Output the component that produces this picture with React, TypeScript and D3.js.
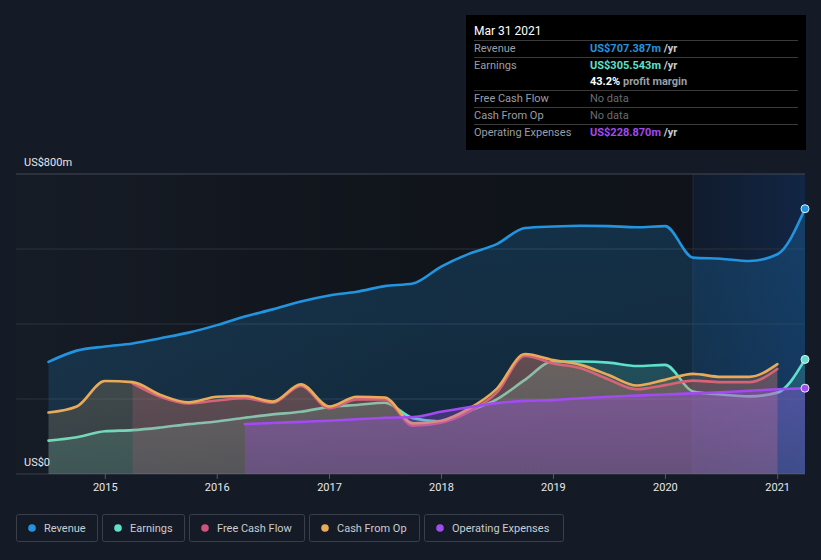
import React from "react";
import * as d3 from "d3";

// quarter ends, mid-2014 .. Q1 2021
const QUARTERS = [
  "2014-06-30", "2014-09-30", "2014-12-31",
  "2015-03-31", "2015-06-30", "2015-09-30", "2015-12-31",
  "2016-03-31", "2016-06-30", "2016-09-30", "2016-12-31",
  "2017-03-31", "2017-06-30", "2017-09-30", "2017-12-31",
  "2018-03-31", "2018-06-30", "2018-09-30", "2018-12-31",
  "2019-03-31", "2019-06-30", "2019-09-30", "2019-12-31",
  "2020-03-31", "2020-06-30", "2020-09-30", "2020-12-31",
  "2021-03-31",
];

// US$ millions
const REVENUE = [
  299, 329, 340, 348, 362, 377, 397, 420, 439, 460, 476, 486, 501, 508,
  553, 587, 613, 656, 660, 662, 661, 658, 661, 577, 574, 568, 586, 707.387,
];
const EARNINGS = [
  89, 98, 114, 117, 124, 133, 140, 150, 159, 166, 179, 184, 190, 149,
  140, 168, 199, 251, 300, 300, 297, 288, 291, 220, 212, 207, 217, 305.543,
];
const FREE_CASH_FLOW = [
  null, null, null, 242, 206, 188, 196, 202, 190, 235, 175, 199, 199, 129,
  137, 166, 217, 315, 295, 282, 252, 226, 237, 249, 245, 245, 280, null,
];
const CASH_FROM_OP = [
  164, 180, 248, 245, 211, 191, 206, 208, 193, 239, 180, 206, 204, 135,
  142, 174, 227, 320, 304, 291, 264, 236, 251, 267, 259, 259, 293, null,
];
const OPERATING_EXPENSES = [
  null, null, null, null, null, null, null, 133, 136, 139, 142, 146, 150, 152,
  166, 178, 189, 195, 197, 202, 206, 209, 212, 215, 218, 222, 226, 228.87,
];

const YEAR_TICKS = [2015, 2016, 2017, 2018, 2019, 2020, 2021];
const Y_GRID = [0, 200, 400, 600, 800];

const SERIES = [
  { name: "Revenue", values: REVENUE, color: "#2394df", fill: 0.2, dot: true },
  { name: "Earnings", values: EARNINGS, color: "#5ee0cb", fill: 0.17, dot: true },
  { name: "Free Cash Flow", values: FREE_CASH_FLOW, color: "#d2527f", fill: 0.2, dot: false },
  { name: "Cash From Op", values: CASH_FROM_OP, color: "#e9aa5a", fill: 0.18, dot: false },
  { name: "Operating Expenses", values: OPERATING_EXPENSES, color: "#a24bf0", fill: 0.3, dot: true },
];

const LEGEND_W = [81, 82, 115, 110, 139];

const W = 821;
const H = 560;
const margin = { top: 174, right: 16, bottom: 86, left: 16 };
const FONT = "Roboto, 'Open Sans', sans-serif";

export default function App() {
  const dates = QUARTERS.map((d) => d3.timeParse("%Y-%m-%d")(d) as Date);
  const x = d3
    .scaleTime()
    .domain([new Date(2014, 2, 16), new Date(2021, 2, 31)])
    .range([margin.left, W - margin.right]);
  const y = d3
    .scaleLinear()
    .domain([0, 800])
    .range([H - margin.bottom, margin.top]);

  const line = d3
    .line<number | null>()
    .defined((d) => d != null)
    .x((_, i) => x(dates[i]))
    .y((d) => y(d as number))
    .curve(d3.curveMonotoneX);
  const area = d3
    .area<number | null>()
    .defined((d) => d != null)
    .x((_, i) => x(dates[i]))
    .y0(y(0))
    .y1((d) => y(d as number))
    .curve(d3.curveMonotoneX);

  const hiStart = x(new Date(2020, 2, 31));
  const plotL = x.range()[0];
  const plotR = x.range()[1];
  const last = dates.length - 1;

  return (
    <div style={{ position: "absolute", left: 0, top: 0 }}>
      <svg width={W} height={H} style={{ display: "block", fontFamily: FONT }}>
        <defs>
          <linearGradient id="plotbg" x1="0" x2="1" y1="0" y2="0">
            <stop offset="0" stopColor="#161c26" />
            <stop offset="0.5" stopColor="#10141b" />
            <stop offset="1" stopColor="#0f1219" />
          </linearGradient>
          <linearGradient id="hilite" x1="0" x2="1" y1="0" y2="0">
            <stop offset="0" stopColor="#1a5fbf" stopOpacity="0.12" />
            <stop offset="1" stopColor="#1a6ae0" stopOpacity="0.22" />
          </linearGradient>
          {SERIES.map((s, i) => (
            <linearGradient key={i} id={"fill" + i} x1="0" x2="0" y1="0" y2="1">
              <stop offset="0" stopColor={s.color} stopOpacity={s.fill * 1.15} />
              <stop offset="1" stopColor={s.color} stopOpacity={s.fill * 0.8} />
            </linearGradient>
          ))}
        </defs>

        <rect width={W} height={H} fill="#151b26" />
        <rect
          x={plotL}
          y={margin.top}
          width={plotR - plotL}
          height={y(0) - margin.top}
          fill="url(#plotbg)"
        />
        <rect
          x={hiStart}
          y={margin.top}
          width={plotR - hiStart}
          height={y(0) - margin.top}
          fill="url(#hilite)"
        />
        <line x1={hiStart} x2={hiStart} y1={margin.top} y2={y(0)} stroke="#1d2a40" strokeWidth={1} />

        {Y_GRID.map((v) => (
          <line
            key={v}
            x1={plotL}
            x2={plotR}
            y1={y(v)}
            y2={y(v)}
            stroke={v === 800 ? "#444a55" : v === 0 ? "#3a404a" : "#2b323d"}
            strokeWidth={1}
          />
        ))}

        {SERIES.map((s, i) => (
          <g key={s.name}>
            <path d={area(s.values) || ""} fill={"url(#fill" + i + ")"} />
            <path
              d={line(s.values) || ""}
              fill="none"
              stroke={s.color}
              strokeWidth={2.6}
              strokeLinejoin="round"
              strokeLinecap="round"
            />
          </g>
        ))}

        {SERIES.filter((s) => s.dot).map((s) => (
          <circle
            key={s.name}
            cx={x(dates[last])}
            cy={y(s.values[last] as number)}
            r={4}
            fill={s.color}
            stroke="#e8eef5"
            strokeWidth={1}
          />
        ))}

        {/* y labels */}
        <text x={24} y={y(800) - 8} fill="#e6e8eb" fontSize={11}>
          US$800m
        </text>
        <text x={24} y={y(0) - 8} fill="#e6e8eb" fontSize={11}>
          US$0
        </text>

        {/* x axis */}
        {YEAR_TICKS.map((yr) => {
          const xx = x(new Date(yr, 0, 1));
          return (
            <g key={yr}>
              <line x1={xx} x2={xx} y1={y(0)} y2={y(0) + 5} stroke="#555b66" />
              <text x={xx} y={y(0) + 17} textAnchor="middle" fill="#e6e8eb" fontSize={11}>
                {yr}
              </text>
            </g>
          );
        })}

        {/* tooltip */}
        <g>
          <rect x={466} y={15} width={340} height={135} fill="#000" />
          <text x={474} y={35} fill="#fff" fontSize={12}>
            Mar 31 2021
          </text>
          {[40, 57, 90, 107, 124].map((ly) => (
            <line key={ly} x1={474} x2={798} y1={ly + 0.5} y2={ly + 0.5} stroke="#3a3a3a" />
          ))}
          <g fontSize={11}>
            <text x={474} y={52} fill="#9a9ea5">Revenue</text>
            <text x={590} y={52} fontWeight="bold">
              <tspan fill="#2394df">US$707.387m</tspan>
              <tspan fill="#c8ccd2"> /yr</tspan>
            </text>
            <text x={474} y={69} fill="#9a9ea5">Earnings</text>
            <text x={590} y={69} fontWeight="bold">
              <tspan fill="#5ee0cb">US$305.543m</tspan>
              <tspan fill="#c8ccd2"> /yr</tspan>
            </text>
            <text x={590} y={85} fontWeight="bold">
              <tspan fill="#fff">43.2%</tspan>
              <tspan fill="#9a9ea5"> profit margin</tspan>
            </text>
            <text x={474} y={102} fill="#9a9ea5">Free Cash Flow</text>
            <text x={590} y={102} fill="#6a6d72">No data</text>
            <text x={474} y={119} fill="#9a9ea5">Cash From Op</text>
            <text x={590} y={119} fill="#6a6d72">No data</text>
            <text x={474} y={136} fill="#9a9ea5">Operating Expenses</text>
            <text x={590} y={136} fontWeight="bold">
              <tspan fill="#a24bf0">US$228.870m</tspan>
              <tspan fill="#c8ccd2"> /yr</tspan>
            </text>
          </g>
        </g>

        {/* legend */}
        <g>
          {SERIES.map((s, i) => {
            const lx = 16 + d3.sum(LEGEND_W.slice(0, i)) + i * 5;
            return (
              <g key={s.name} transform={`translate(${lx},514)`}>
                <rect
                  x={0.5}
                  y={0.5}
                  width={LEGEND_W[i]}
                  height={27}
                  rx={2}
                  fill="none"
                  stroke="#3a404b"
                />
                <circle cx={16} cy={14} r={3.8} fill={s.color} />
                <text x={28} y={17.5} fill="#c9ccd1" fontSize={11}>
                  {s.name}
                </text>
              </g>
            );
          })}
        </g>
      </svg>
    </div>
  );
}
